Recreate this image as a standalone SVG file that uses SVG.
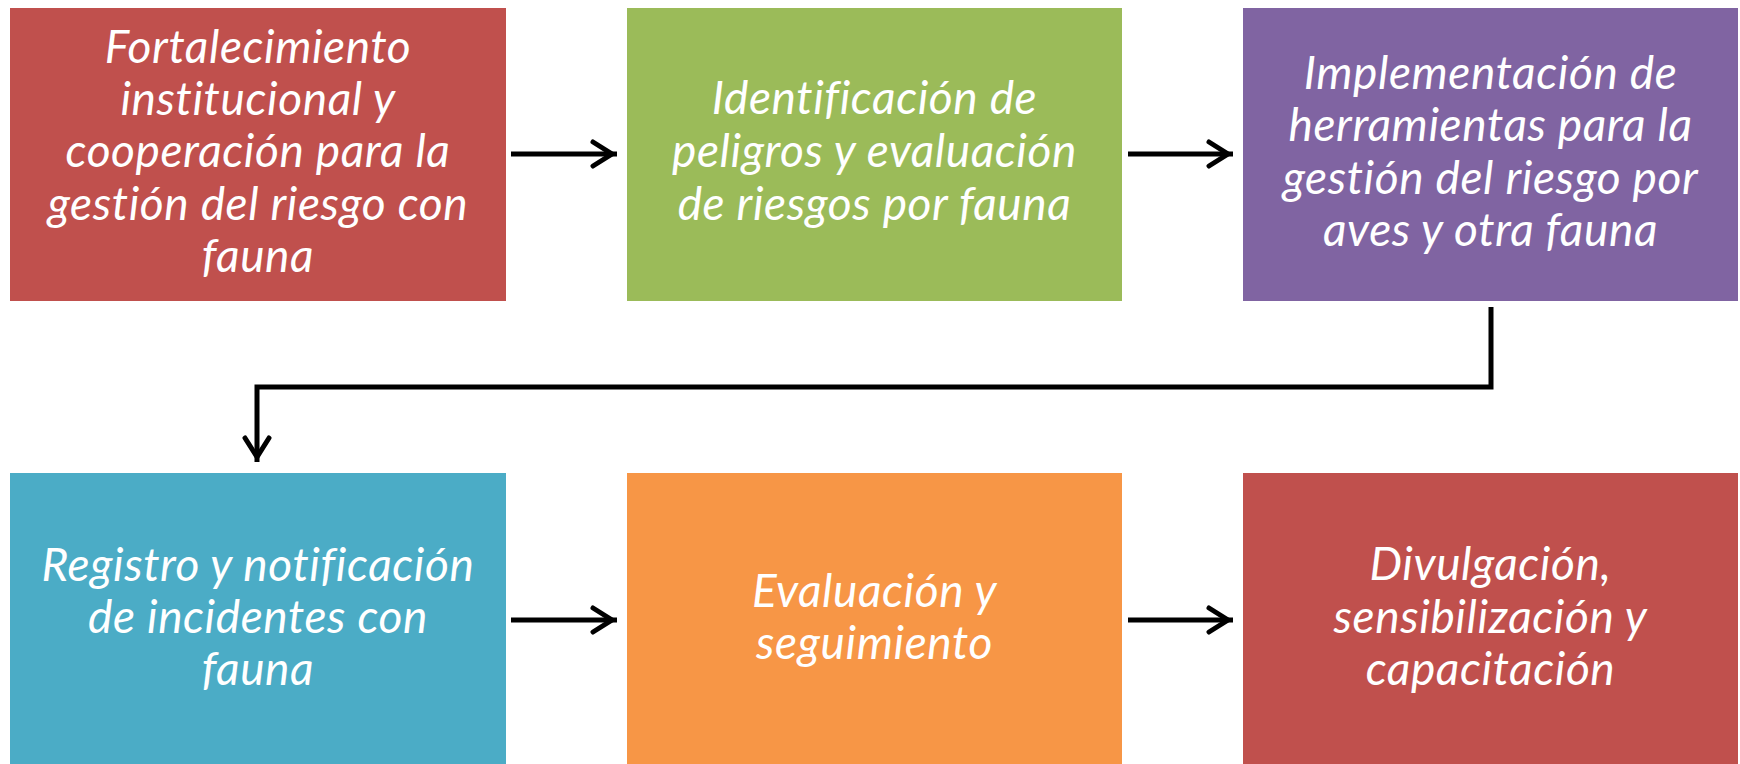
<svg xmlns="http://www.w3.org/2000/svg" width="1740" height="764" viewBox="0 0 1740 764">
<style>
.box text{font-family:Lato,"Open Sans","Liberation Sans",sans-serif;font-style:italic;font-size:46px;letter-spacing:0.6px;fill:#ffffff;text-anchor:middle}
.conn{fill:none;stroke:#000;stroke-width:5;marker-end:url(#arr)}
</style>
<defs>
<marker id="arr" markerUnits="userSpaceOnUse" viewBox="-30 -15 40 30" markerWidth="40" markerHeight="30" refX="0" refY="0" orient="auto">
<path d="M-24,-12 L-5,0 L-24,12" fill="none" stroke="#000" stroke-width="5" stroke-linecap="round" stroke-linejoin="miter"/>
</marker>
</defs>
<rect width="1740" height="764" fill="#ffffff"/>
<g id="n1" class="box">
<rect x="10" y="8" width="496" height="293" fill="#C0504D"/>
<text x="258" y="63">Fortalecimiento</text>
<text x="258" y="115">institucional y</text>
<text x="258" y="167">cooperación para la</text>
<text x="258" y="220">gestión del riesgo con</text>
<text x="258" y="272">fauna</text>
</g>
<g id="n2" class="box">
<rect x="627" y="8" width="495" height="293" fill="#9BBB59"/>
<text x="874.5" y="114">Identificación de</text>
<text x="874.5" y="167">peligros y evaluación</text>
<text x="874.5" y="220">de riesgos por fauna</text>
</g>
<g id="n3" class="box">
<rect x="1243" y="8" width="495" height="293" fill="#8064A2"/>
<text x="1490.5" y="89">Implementación de</text>
<text x="1490.5" y="141">herramientas para la</text>
<text x="1490.5" y="194">gestión del riesgo por</text>
<text x="1490.5" y="246">aves y otra fauna</text>
</g>
<g id="n4" class="box">
<rect x="10" y="473" width="496" height="291" fill="#4BACC6"/>
<text x="258" y="581">Registro y notificación</text>
<text x="258" y="633">de incidentes con</text>
<text x="258" y="685">fauna</text>
</g>
<g id="n5" class="box">
<rect x="627" y="473" width="495" height="291" fill="#F79646"/>
<text x="874.5" y="607">Evaluación y</text>
<text x="874.5" y="659">seguimiento</text>
</g>
<g id="n6" class="box">
<rect x="1243" y="473" width="495" height="291" fill="#C0504D"/>
<text x="1490.5" y="580">Divulgación,</text>
<text x="1490.5" y="633">sensibilización y</text>
<text x="1490.5" y="685">capacitación</text>
</g>
<g id="connectors">
<path class="conn" d="M511,154 H617"/>
<path class="conn" d="M1128,154 H1233"/>
<path class="conn" d="M1491,307 V387 H257 V462"/>
<path class="conn" d="M511,620 H617"/>
<path class="conn" d="M1128,620 H1233"/>
</g>
</svg>
